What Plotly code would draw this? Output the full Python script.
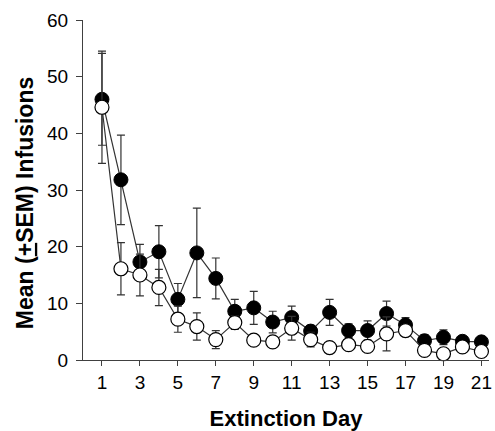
import plotly.graph_objects as go

days = list(range(1, 22))
filled_mean = [46.0, 31.8, 17.3, 19.1, 10.7, 18.9, 14.4, 8.6, 9.2, 6.7, 7.5, 5.1, 8.4, 5.2, 5.2, 8.2, 6.2, 3.4, 4.0, 3.3, 3.2]
filled_sem = [8.1, 7.9, 3.1, 4.6, 2.8, 7.9, 3.6, 2.1, 2.9, 1.9, 2.0, 1.0, 2.3, 1.2, 1.7, 2.2, 1.3, 1.1, 1.3, 0.8, 0.8]
open_mean = [44.6, 16.1, 15.0, 12.8, 7.2, 5.9, 3.6, 6.6, 3.5, 3.2, 5.6, 3.6, 2.2, 2.7, 2.4, 4.6, 5.2, 1.7, 1.1, 2.3, 1.5]
open_sem = [9.9, 4.6, 3.7, 3.2, 2.3, 2.4, 1.6, 1.2, 0.8, 0.6, 2.1, 1.3, 0.8, 0.6, 0.8, 3.0, 1.0, 0.6, 0.6, 0.6, 0.6]
x_ticks = list(range(1, 22, 2))
y_ticks = [0, 10, 20, 30, 40, 50, 60]
y_title = "<b>Mean (<u>+</u>SEM) Infusions</b>"
x_title = "<b>Extinction Day</b>"

line_col = "#333333"
fig = go.Figure()
fig.add_trace(go.Scatter(
    x=days, y=filled_mean, mode="lines+markers",
    line=dict(color=line_col, width=1.2),
    marker=dict(size=14, color="black", line=dict(color="black", width=1)),
    error_y=dict(type="data", array=filled_sem, visible=True, color=line_col, thickness=1.2, width=4),
    cliponaxis=False, showlegend=False))
fig.add_trace(go.Scatter(
    x=days, y=open_mean, mode="lines+markers",
    line=dict(color=line_col, width=1.2),
    marker=dict(size=14, color="white", line=dict(color="black", width=1.2)),
    error_y=dict(type="data", array=open_sem, visible=True, color=line_col, thickness=1.2, width=4),
    cliponaxis=False, showlegend=False))

font_family = "Liberation Sans, Arial, sans-serif"
fig.update_layout(
    width=495, height=431,
    margin=dict(l=83, r=3, t=20, b=71),
    paper_bgcolor="white", plot_bgcolor="white",
    font=dict(family=font_family, color="black", size=19),
    xaxis=dict(range=[0, 21.4], tickvals=x_ticks, ticks="outside", ticklen=5, tickwidth=1,
               tickcolor="#404040", showline=True, linecolor="#404040", linewidth=1,
               showgrid=False, zeroline=False, tickfont=dict(size=19),
               title=dict(text=x_title, font=dict(size=22), standoff=18)),
    yaxis=dict(range=[0, 60], tickvals=y_ticks, ticks="outside", ticklen=6, tickwidth=1,
               tickcolor="#404040", showline=True, linecolor="#404040", linewidth=1,
               showgrid=False, zeroline=False, tickfont=dict(size=19), ticklabelstandoff=4),
    annotations=[dict(text=y_title, xref="paper", yref="paper", x=-0.144, y=0.46,
                      xanchor="center", yanchor="middle", textangle=-90, showarrow=False,
                      font=dict(size=23))],
)
fig.write_html("out.html")
